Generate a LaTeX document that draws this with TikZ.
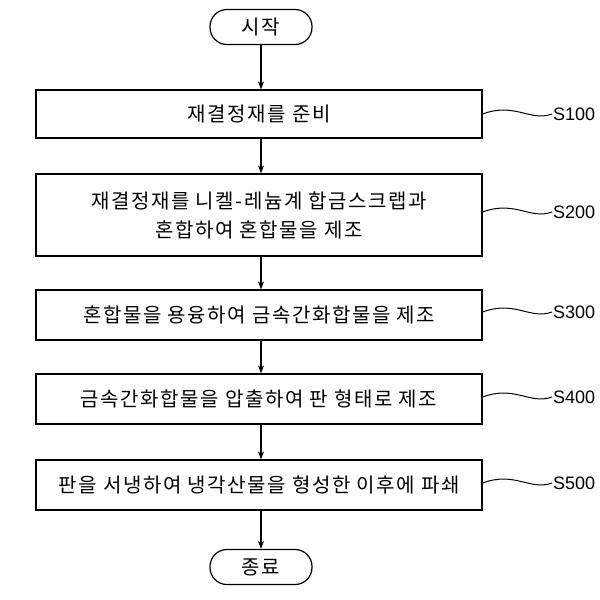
\documentclass[tikz,border=0pt]{standalone}
\usepackage{fontspec}
\setmainfont{Liberation Sans}
\newfontfamily\kr{Noto Sans CJK KR}[LetterSpace=8]
\usetikzlibrary{arrows.meta}
\begin{document}
\begin{tikzpicture}[x=1pt,y=-1pt,
  box/.style={draw,line width=1.2pt,minimum width=446pt,align=center,font=\kr\fontsize{20}{29}\selectfont,inner sep=0pt},
  term/.style={draw,line width=1.2pt,rounded corners=17pt,minimum width=102pt,minimum height=35pt,font=\kr\fontsize{20}{22}\selectfont},
  arr/.style={line width=1.2pt,-{Stealth[length=8pt,width=6pt]}},
  lab/.style={font=\fontsize{18}{20}\selectfont,anchor=west,inner sep=1pt}]
\useasboundingbox (0,0) rectangle (600,600);
\node[term] (s) at (261,27) {시작};
\node[box,minimum height=48pt] (b1) at (259,114) {재결정재를 준비};
\node[box,minimum height=82pt] (b2) at (259,215) {재결정재를 니켈-레늄계 합금스크랩과\\혼합하여 혼합물을 제조};
\node[box,minimum height=50pt] (b3) at (259,315) {혼합물을 용융하여 금속간화합물을 제조};
\node[box,minimum height=50pt] (b4) at (259,399) {금속간화합물을 압출하여 판 형태로 제조};
\node[box,minimum height=50pt] (b5) at (259,485) {판을 서냉하여 냉각산물을 형성한 이후에 파쇄};
\node[term] (e) at (261,567) {종료};
\draw[arr] (s) -- (s|-b1.north);
\draw[arr] (b1.south-|s) -- (s|-b2.north);
\draw[arr] (b2.south-|s) -- (s|-b3.north);
\draw[arr] (b3.south-|s) -- (s|-b4.north);
\draw[arr] (b4.south-|s) -- (s|-b5.north);
\draw[arr] (b5.south-|s) -- (e);
\foreach \b/\t/\y in {b1/S100/114,b2/S200/212,b3/S300/312,b4/S400/397,b5/S500/483}{
  \node[lab] (l\b) at (552,\y) {\t};
  \draw[line width=1pt] (\b.east|-l\b) .. controls (515,\y-12) and (530,\y+8) .. (l\b.west);
}
\end{tikzpicture}
\end{document}
